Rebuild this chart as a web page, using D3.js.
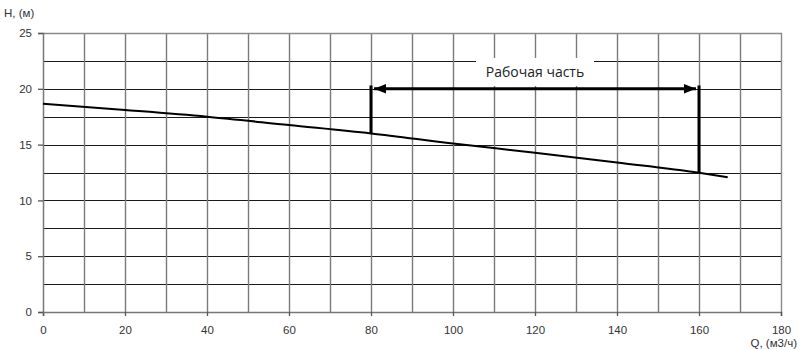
<!DOCTYPE html>
<html lang="ru">
  <head>
    <meta charset="utf-8">
    <title>H-Q</title>
    <script src="https://cdn.jsdelivr.net/npm/d3@7"></script>
    <style>
      body { margin: 0; background: #fff; }
      text { font-family: "Liberation Sans", Arial, sans-serif; }
    </style>
  </head>
  <body>
    <script>
      // pump curve
      var flow = [0, 20, 40, 60, 80, 100, 120, 140, 160, 167];
      var head = [18.65, 18.1, 17.5, 16.75, 16.0, 15.1, 14.27, 13.4, 12.48, 12.07];
      var xTicks = [0, 20, 40, 60, 80, 100, 120, 140, 160, 180];
      var yTicks = [0, 5, 10, 15, 20, 25];
      var workRange = [80, 160]; // "Рабочая часть"
      var workLabel = "Рабочая часть";

      const W = 800, H = 350;
      const PL = 43, PR = 781, PT = 33, PB = 312;

      var svg = d3.select("body").append("svg")
        .attr("width", W)
        .attr("height", H);

      var x = d3.scaleLinear().domain([0, 180]).range([PL, PR]);
      var y = d3.scaleLinear().domain([0, 25]).range([PB, PT]);

      // horizontal grid every 2.5
      svg.append("g").selectAll("line")
        .data(d3.range(2.5, 25, 2.5))
        .join("line")
        .attr("x1", PL).attr("x2", PR)
        .attr("y1", d => Math.round(y(d)) + 0.5).attr("y2", d => Math.round(y(d)) + 0.5)
        .attr("stroke", "#1a1a1a").attr("stroke-width", 1);

      // vertical grid every 10
      svg.append("g").selectAll("line")
        .data(d3.range(10, 180, 10))
        .join("line")
        .attr("x1", d => Math.round(x(d)) + 0.5).attr("x2", d => Math.round(x(d)) + 0.5)
        .attr("y1", PT).attr("y2", PB)
        .attr("stroke", "#7a7a7a").attr("stroke-width", 1.4);

      // top + right border
      svg.append("path")
        .attr("d", `M${PL},${PT + 0.5}H${PR + 0.5}V${PB}`)
        .attr("fill", "none").attr("stroke", "#8a8a8a").attr("stroke-width", 1.4);

      // axes
      var xAxis = svg.append("g")
        .attr("transform", `translate(0,${PB})`)
        .call(d3.axisBottom(x).tickValues(xTicks).tickSize(4).tickPadding(10).tickFormat(d3.format("d")));
      var yAxis = svg.append("g")
        .attr("transform", `translate(${PL},0)`)
        .call(d3.axisLeft(y).tickValues(yTicks).tickSize(5).tickPadding(6).tickFormat(d3.format("d")));
      [xAxis, yAxis].forEach(function(a) {
        a.select(".domain").attr("stroke", "#777").attr("stroke-width", 1.5);
        a.selectAll(".tick line").attr("stroke", "#555").attr("stroke-width", 1.3);
        a.selectAll(".tick text").attr("fill", "#333").style("font-size", "11.5px")
          .style("font-family", '"Liberation Sans", Arial, sans-serif');
      });

      svg.append("text")
        .attr("x", 4).attr("y", 17)
        .attr("fill", "#333").style("font-size", "11.5px")
        .text("H, (м)");
      svg.append("text")
        .attr("x", 797).attr("y", 347)
        .attr("text-anchor", "end")
        .attr("fill", "#333").style("font-size", "11.5px")
        .text("Q, (м3/ч)");

      // curve
      var pts = flow.map((q, i) => [q, head[i]]);
      var line = d3.line().x(d => x(d[0])).y(d => y(d[1])).curve(d3.curveMonotoneX);
      svg.append("path")
        .datum(pts)
        .attr("d", line)
        .attr("fill", "none").attr("stroke", "#000").attr("stroke-width", 2);

      // working range
      var headAt = d3.scaleLinear().domain(flow).range(head);
      var defs = svg.append("defs");
      defs.append("marker")
        .attr("id", "ah")
        .attr("viewBox", "0 0 10 8")
        .attr("refX", 10).attr("refY", 4)
        .attr("markerWidth", 4.2).attr("markerHeight", 3.2)
        .attr("markerUnits", "strokeWidth")
        .attr("orient", "auto-start-reverse")
        .append("path").attr("d", "M0,0L10,4L0,8Z").attr("fill", "#000");

      svg.append("g").selectAll("line")
        .data(workRange)
        .join("line")
        .attr("x1", d => x(d)).attr("x2", d => x(d))
        .attr("y1", d => y(headAt(d))).attr("y2", y(20.3))
        .attr("stroke", "#000").attr("stroke-width", 3);

      svg.append("line")
        .attr("x1", x(workRange[0]) + 3).attr("x2", x(workRange[1]) - 3)
        .attr("y1", y(20)).attr("y2", y(20))
        .attr("stroke", "#000").attr("stroke-width", 3)
        .attr("marker-start", "url(#ah)").attr("marker-end", "url(#ah)");

      var lx = x((workRange[0] + workRange[1]) / 2);
      svg.append("rect")
        .attr("x", lx - 59).attr("y", 58).attr("width", 118).attr("height", 28)
        .attr("fill", "#fff");
      svg.append("text")
        .attr("x", lx).attr("y", y(21.4))
        .attr("text-anchor", "middle").attr("dominant-baseline", "middle")
        .attr("fill", "#222")
        .style("font-family", '"Open Sans", "Noto Sans", sans-serif')
        .style("font-size", "14px")
        .text(workLabel);
    </script>
  </body>
</html>
